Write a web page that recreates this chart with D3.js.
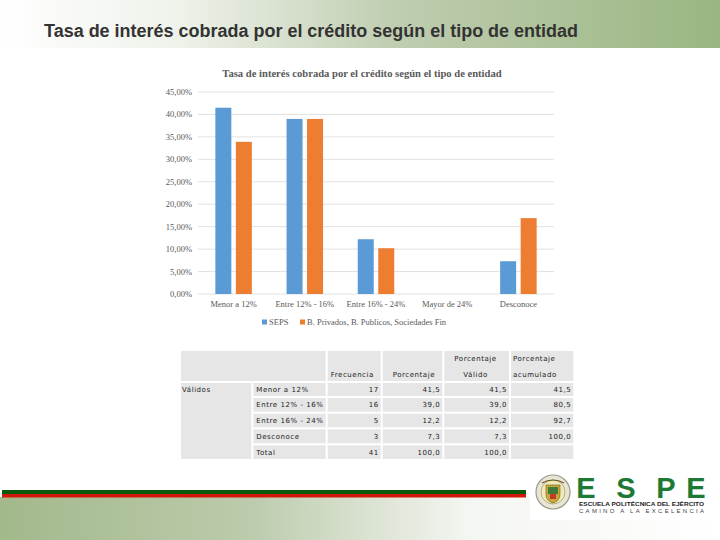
<!DOCTYPE html>
<html>
<head>
<meta charset="utf-8">
<script src="https://cdn.jsdelivr.net/npm/d3@7"></script>
<style>
  html, body { margin: 0; padding: 0; background: #fff; }
  svg { display: block; }
</style>
</head>
<body>
<div class="chart-container"></div>
<script>
// chart data
const categories = ["Menor a 12%", "Entre 12% - 16%", "Entre 16% - 24%", "Mayor de 24%", "Desconoce"];
const seriesNames = ["SEPS", "B. Privados, B. Publicos, Sociedades Fin"];
const seps = [41.5, 39.0, 12.2, 0, 7.3];
const privados = [33.9, 39.0, 10.2, 0, 16.9];
const yTicks = [0, 5, 10, 15, 20, 25, 30, 35, 40, 45];

// table data
const rowLabels = ["Menor a 12%", "Entre 12% - 16%", "Entre 16% - 24%", "Desconoce", "Total"];
const frecuencia = ["17", "16", "5", "3", "41"];
const porcentaje = ["41,5", "39,0", "12,2", "7,3", "100,0"];
const porcValido = ["41,5", "39,0", "12,2", "7,3", "100,0"];
const porcAcum = ["41,5", "80,5", "92,7", "100,0", ""];

document.addEventListener('DOMContentLoaded', function() {
    const width = 720, height = 540;

    const svg = d3.select(".chart-container")
        .append("svg")
        .attr("width", width)
        .attr("height", height);

    const defs = svg.append("defs");
    const topGrad = defs.append("linearGradient").attr("id", "topGrad");
    topGrad.append("stop").attr("offset", "0%").attr("stop-color", "#ffffff");
    topGrad.append("stop").attr("offset", "25%").attr("stop-color", "#eef2ea");
    topGrad.append("stop").attr("offset", "55%").attr("stop-color", "#bfcdb0");
    topGrad.append("stop").attr("offset", "100%").attr("stop-color", "#9ab682");
    const botGrad = defs.append("linearGradient").attr("id", "botGrad");
    botGrad.append("stop").attr("offset", "0%").attr("stop-color", "#a2b98b");
    botGrad.append("stop").attr("offset", "35%").attr("stop-color", "#bccbac");
    botGrad.append("stop").attr("offset", "65%").attr("stop-color", "#f4f6f1");
    botGrad.append("stop").attr("offset", "100%").attr("stop-color", "#ffffff");

    // slide backgrounds
    svg.append("rect").attr("x", 0).attr("y", 0).attr("width", width).attr("height", 48)
        .attr("fill", "url(#topGrad)");
    svg.append("rect").attr("x", 0).attr("y", 497).attr("width", width).attr("height", 43)
        .attr("fill", "url(#botGrad)");

    svg.append("text")
        .attr("x", 44).attr("y", 37)
        .attr("font-family", "'Liberation Sans Narrow', 'Liberation Sans', Arial, sans-serif")
        .attr("font-weight", "bold")
        .attr("font-size", 18)
        .attr("fill", "#333333")
        .attr("textLength", 534)
        .attr("lengthAdjust", "spacingAndGlyphs")
        .text("Tasa de interés cobrada por el crédito según el tipo de entidad");

    // ---- chart ----
    const serif = "'Liberation Serif', 'Times New Roman', serif";
    const x0 = d3.scaleBand().domain(categories).range([198, 554]);
    const x1 = d3.scaleBand().domain(seriesNames)
        .range([x0.bandwidth() / 2 - 18.25, x0.bandwidth() / 2 + 18.25])
        .paddingInner(0.22);
    const y = d3.scaleLinear().domain([0, 45]).range([294, 92]);
    const color = d3.scaleOrdinal().domain(seriesNames).range(["#5b9bd5", "#ed7d31"]);
    const fmt = d => d.toFixed(2).replace(".", ",") + "%";

    svg.append("text")
        .attr("x", 362).attr("y", 77)
        .attr("text-anchor", "middle")
        .attr("font-family", serif)
        .attr("font-weight", "bold")
        .attr("font-size", 10.6)
        .attr("fill", "#595959")
        .text("Tasa de interés cobrada por el crédito según el tipo de entidad");

    // grid + y labels
    const yAxis = svg.append("g");
    yAxis.selectAll("line")
        .data(yTicks)
        .join("line")
        .attr("x1", 198).attr("x2", 554)
        .attr("y1", d => y(d)).attr("y2", d => y(d))
        .attr("stroke", "#d9d9d9")
        .attr("stroke-width", 0.8);
    yAxis.selectAll("text")
        .data(yTicks)
        .join("text")
        .attr("x", 192)
        .attr("y", d => y(d))
        .attr("dy", "0.35em")
        .attr("text-anchor", "end")
        .attr("font-family", serif)
        .attr("font-size", 8.5)
        .attr("fill", "#595959")
        .text(fmt);

    // bars
    const rows = categories.map((c, i) => ({cat: c, vals: [seps[i], privados[i]]}));
    svg.append("g")
        .selectAll("g")
        .data(rows)
        .join("g")
        .attr("transform", d => `translate(${x0(d.cat)},0)`)
        .selectAll("rect")
        .data(d => d.vals.map((v, j) => ({key: seriesNames[j], v: v})))
        .join("rect")
        .attr("x", d => x1(d.key))
        .attr("width", x1.bandwidth())
        .attr("y", d => y(d.v))
        .attr("height", d => y(0) - y(d.v))
        .attr("fill", d => color(d.key));

    // category labels
    svg.append("g")
        .selectAll("text")
        .data(categories)
        .join("text")
        .attr("x", d => x0(d) + x0.bandwidth() / 2)
        .attr("y", 304)
        .attr("dy", "0.35em")
        .attr("text-anchor", "middle")
        .attr("font-family", serif)
        .attr("font-size", 8.5)
        .attr("fill", "#595959")
        .text(d => d);

    // legend
    const legendX = [262, 300];
    const legend = svg.append("g")
        .selectAll("g")
        .data(seriesNames)
        .join("g")
        .attr("transform", (d, i) => `translate(${legendX[i]},322)`);
    legend.append("rect")
        .attr("x", 0).attr("y", -2.5)
        .attr("width", 5).attr("height", 5)
        .attr("fill", color);
    legend.append("text")
        .attr("x", 7).attr("dy", "0.35em")
        .attr("font-family", serif)
        .attr("font-size", 8.5)
        .attr("fill", "#595959")
        .text(d => d);

    // ---- table ----
    const cols = [180, 252.3, 326.7, 381.7, 443.3, 510, 574.3];
    const rowY = [350, 382, 397, 412.7, 428.3, 444.3, 460];
    const gap = 1;
    const tbl = svg.append("g");
    const cellFill = "#e6e6e6";
    const tfont = "'DejaVu Sans', Verdana, sans-serif";

    function cell(xa, xb, ya, yb) {
        tbl.append("rect")
            .attr("x", xa + gap).attr("y", ya + gap)
            .attr("width", xb - xa - 2 * gap).attr("height", yb - ya - 2 * gap)
            .attr("fill", cellFill);
    }
    function txt(x, yy, s, anchor) {
        tbl.append("text")
            .attr("x", x).attr("y", yy)
            .attr("dy", "0.35em")
            .attr("text-anchor", anchor || "start")
            .attr("font-family", tfont)
            .attr("font-size", 7)
            .attr("letter-spacing", 0.55)
            .attr("fill", "#222")
            .text(s);
    }

    // header
    cell(cols[0], cols[2], rowY[0], rowY[1]);
    for (let c = 2; c < 6; c++) cell(cols[c], cols[c + 1], rowY[0], rowY[1]);
    // body
    cell(cols[0], cols[1], rowY[1], rowY[6]);
    for (let r = 1; r < 6; r++)
        for (let c = 1; c < 6; c++) cell(cols[c], cols[c + 1], rowY[r], rowY[r + 1]);

    const headerLow = 374.5, headerHigh = 359;
    txt(cols[2] + 4, headerLow, "Frecuencia");
    txt(cols[3] + 11, headerLow, "Porcentaje");
    txt(cols[4] + 11, headerHigh, "Porcentaje");
    txt(cols[4] + 20, headerLow, "Válido");
    txt(cols[5] + 3, headerHigh, "Porcentaje");
    txt(cols[5] + 3, headerLow, "acumulado");
    txt(cols[0] + 2, (rowY[1] + rowY[2]) / 2, "Válidos");

    const numCols = [frecuencia, porcentaje, porcValido, porcAcum];
    rowLabels.forEach((lab, r) => {
        const cy = (rowY[r + 1] + rowY[r + 2]) / 2;
        txt(cols[1] + 4, cy, lab);
        numCols.forEach((arr, k) => {
            txt(cols[k + 3] - 3, cy, arr[r], "end");
        });
    });

    // ---- footer band ----
    svg.append("rect").attr("x", 2).attr("y", 490).attr("width", 524).attr("height", 4).attr("fill", "#0b5a0b");
    svg.append("rect").attr("x", 2).attr("y", 494).attr("width", 524).attr("height", 3.5).attr("fill", "#d2180b");

    // logo
    const logo = svg.append("g");
    logo.append("rect").attr("x", 530).attr("y", 466).attr("width", 190).attr("height", 54).attr("fill", "#ffffff");
    logo.append("circle").attr("cx", 553).attr("cy", 492).attr("r", 17).attr("fill", "#e8e4d6").attr("stroke", "#9a9a8a").attr("stroke-width", 1.2);
    logo.append("circle").attr("cx", 553).attr("cy", 492).attr("r", 12).attr("fill", "#f1e9b8").attr("stroke", "#8d8a6a").attr("stroke-width", 0.6);
    logo.append("path").attr("d", "M546,485 L560,485 L560,494 Q560,501 553,503 Q546,501 546,494 Z").attr("fill", "#c8a93a").attr("stroke", "#6d5a1c").attr("stroke-width", 0.6);
    logo.append("rect").attr("x", 548).attr("y", 487).attr("width", 10).attr("height", 7).attr("fill", "#3f7a3a");
    logo.append("rect").attr("x", 550).attr("y", 494).attr("width", 6).attr("height", 5).attr("fill", "#c0392b");
    logo.append("path").attr("d", "M542,483 Q553,477 564,483").attr("fill", "none").attr("stroke", "#6d5a1c").attr("stroke-width", 1.2);

    const espe = ["E", "S", "P", "E"];
    const espeX = [586, 626, 666, 696];
    logo.selectAll("text.espe")
        .data(espe)
        .join("text")
        .attr("class", "espe")
        .attr("x", (d, i) => espeX[i])
        .attr("y", 498)
        .attr("text-anchor", "middle")
        .attr("font-family", "'Liberation Sans Narrow', 'Liberation Sans', Arial, sans-serif")
        .attr("font-weight", "bold")
        .attr("font-size", 29)
        .attr("fill", "#1c7a34")
        .text(d => d);
    logo.append("text")
        .attr("x", 579).attr("y", 506)
        .attr("font-family", "'Liberation Sans', Arial, sans-serif")
        .attr("font-weight", "bold")
        .attr("font-size", 6)
        .attr("fill", "#222")
        .attr("textLength", 125)
        .attr("lengthAdjust", "spacingAndGlyphs")
        .text("ESCUELA POLITÉCNICA DEL EJÉRCITO");
    logo.append("text")
        .attr("x", 579).attr("y", 513)
        .attr("font-family", "'Liberation Sans', Arial, sans-serif")
        .attr("font-size", 6)
        .attr("fill", "#444")
        .attr("textLength", 125)
        .attr("lengthAdjust", "spacing")
        .text("CAMINO A LA EXCELENCIA");
});
</script>
</body>
</html>
